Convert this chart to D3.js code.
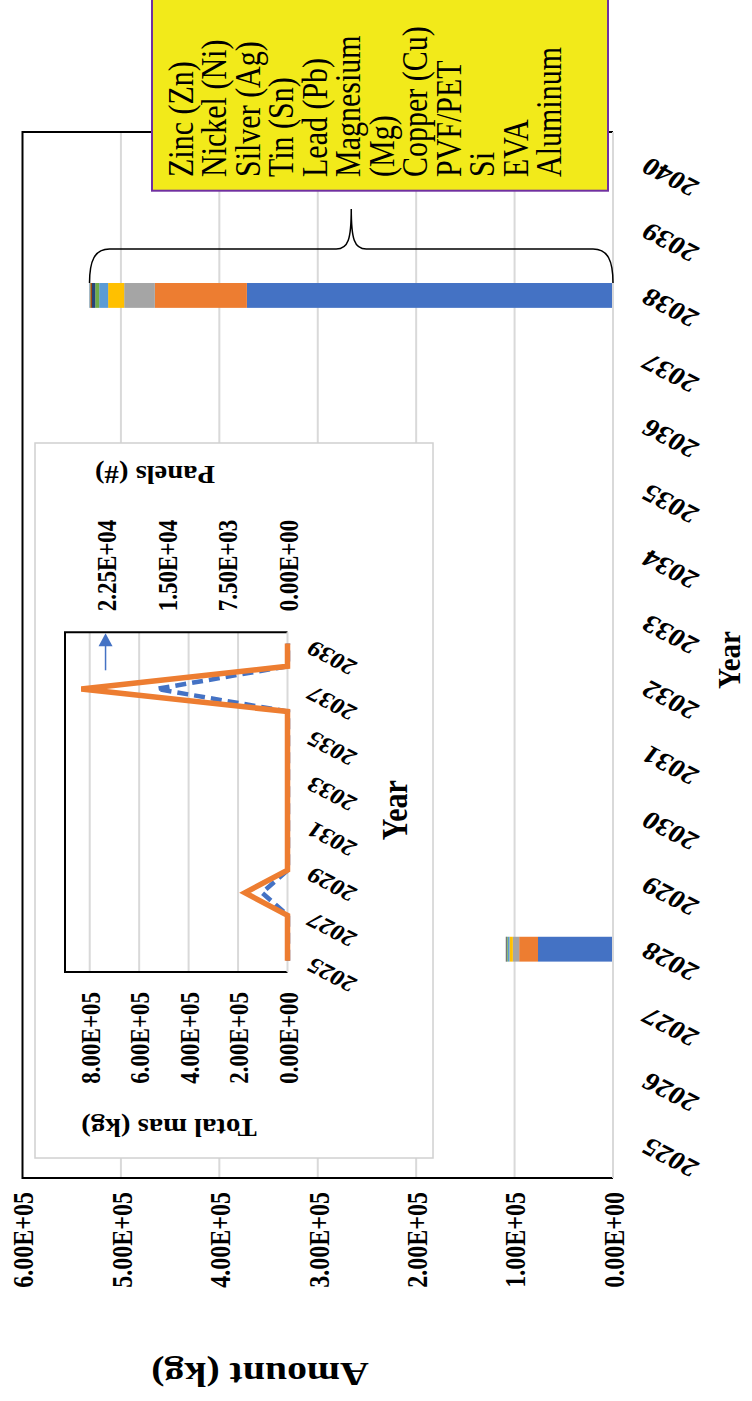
<!DOCTYPE html>
<html><head><meta charset="utf-8">
<script src="https://cdn.jsdelivr.net/npm/d3@7"></script>
<style>
body{margin:0;background:#fff}
svg{display:block}
text{font-family:"Liberation Serif","Times New Roman",serif;fill:#000}
</style>
</head><body>
<svg id="c" width="752" height="1401"></svg>
<script>
// ---------------- data ----------------
const years = ["2025","2026","2027","2028","2029","2030","2031","2032","2033","2034","2035","2036","2037","2038","2039","2040"];
const materials = ["Aluminum","EVA","Si","PVF/PET","Copper (Cu)","Magnesium (Mg)","Lead (Pb)","Tin (Sn)","Silver (Ag)","Nickel (Ni)","Zinc (Zn)"];
const materialColors = ["#4472C4","#ED7D31","#A5A5A5","#FFC000","#5B9BD5","#70AD47","#264478","#9E480E","#636363","#997300","#255E91"];
const aluminum  = [0,0,0,76200,0,0,0,0,0,0,0,0,0,372000,0,0];
const eva       = [0,0,0,19160,0,0,0,0,0,0,0,0,0,93500,0,0];
const si        = [0,0,0,6400,0,0,0,0,0,0,0,0,0,31200,0,0];
const pvfPet    = [0,0,0,3340,0,0,0,0,0,0,0,0,0,16300,0,0];
const copper    = [0,0,0,1860,0,0,0,0,0,0,0,0,0,9100,0,0];
const magnesium = [0,0,0,820,0,0,0,0,0,0,0,0,0,4000,0,0];
const lead      = [0,0,0,680,0,0,0,0,0,0,0,0,0,3300,0,0];
const tin       = [0,0,0,200,0,0,0,0,0,0,0,0,0,1000,0,0];
const silver    = [0,0,0,100,0,0,0,0,0,0,0,0,0,500,0,0];
const nickel    = [0,0,0,120,0,0,0,0,0,0,0,0,0,600,0,0];
const zinc      = [0,0,0,80,0,0,0,0,0,0,0,0,0,400,0,0];
const amountTicks = [0,100000,200000,300000,400000,500000,600000];
const legendLines = ["Zinc (Zn)","Nickel (Ni)","Silver (Ag)","Tin (Sn)","Lead (Pb)","Magnesium","(Mg)","Copper (Cu)","PVF/PET","Si","EVA","Aluminum"];

const insetYears = ["2025","2026","2027","2028","2029","2030","2031","2032","2033","2034","2035","2036","2037","2038","2039"];
const insetYearLabels = ["2025","2027","2029","2031","2033","2035","2037","2039"];
const totalMass = [0,0,0,172000,0,0,0,0,0,0,0,0,834000,0,0];
const panels    = [0,0,0,3200,0,0,0,0,0,0,0,0,16200,0,0];
const massTicks = [0,200000,400000,600000,800000];
const panelTicks = [0,7500,15000,22500];

// ---------------- helpers ----------------
function sci(v){
  if (v === 0) return "0.00E+00";
  const e = Math.floor(Math.log10(Math.abs(v)));
  const m = v / Math.pow(10, e);
  return m.toFixed(2) + "E" + (e >= 0 ? "+" : "-") + String(Math.abs(e)).padStart(2, "0");
}
// the picture is stretched sideways: glyphs are wider along the page's x
const tf = (px, py, ang, sx) => `translate(${px},${py}) scale(${sx},1) rotate(${ang})`;

const svg = d3.select("#c");
const seriesArrays = [aluminum, eva, si, pvfPet, copper, magnesium, lead, tin, silver, nickel, zinc];
const table = years.map((y, i) => {
  const row = {year: y};
  materials.forEach((m, k) => row[m] = seriesArrays[k][i]);
  return row;
});

// ---------------- main chart ----------------
const P = {left: 22.5, right: 613, top: 132, bottom: 1178};
const x = d3.scaleLinear().domain([0, 600000]).range([P.right, P.left]);
const y = d3.scaleBand().domain(years).range([P.bottom, P.top]).paddingInner(0.62).paddingOuter(0.31);

svg.append("g").selectAll("line").data(amountTicks.filter(t => t > 0 && t < 600000)).join("line")
  .attr("x1", d => x(d)).attr("x2", d => x(d)).attr("y1", P.top).attr("y2", P.bottom)
  .attr("stroke", "#D9D9D9").attr("stroke-width", 2);

const stack = d3.stack().keys(materials)(table);
svg.append("g").selectAll("g").data(stack).join("g")
  .attr("fill", (d, i) => materialColors[i])
  .selectAll("rect").data(d => d.filter(p => p[1] - p[0] > 0)).join("rect")
  .attr("x", d => x(d[1])).attr("width", d => x(d[0]) - x(d[1]))
  .attr("y", d => y(d.data.year)).attr("height", y.bandwidth());

svg.append("path").attr("d", `M${P.right},${P.top}H${P.left}V${P.bottom}H${P.right}`)
  .attr("stroke", "#000").attr("stroke-width", 2).attr("fill", "none");
svg.append("line").attr("x1", P.right).attr("x2", P.right).attr("y1", P.top).attr("y2", P.bottom)
  .attr("stroke", "#D9D9D9").attr("stroke-width", 2);

const ax = svg.append("g").attr("transform", `translate(0,${P.bottom})`)
  .call(d3.axisBottom(x).tickValues(amountTicks).tickSize(0).tickFormat(sci));
ax.select(".domain").remove();
ax.selectAll("text").attr("x", 0).attr("y", 0).attr("dy", "0.35em")
  .attr("transform", tf(0, 14, -90, 1.22)).attr("text-anchor", "end")
  .style("font-family", "Liberation Serif").style("font-size", "24px").style("font-weight", "bold").attr("fill", "#000");

const ay = svg.append("g").attr("transform", `translate(${P.right},0)`)
  .call(d3.axisRight(y).tickSize(0));
ay.select(".domain").remove();
ay.selectAll("text").attr("x", 0).attr("dy", null)
  .attr("transform", tf(57, y.bandwidth()/2, -148, 1.2))
  .attr("text-anchor", "middle").attr("dominant-baseline", "central")
  .style("font-family", "Liberation Serif").style("font-size", "25px").style("font-weight", "bold").attr("fill", "#000");

svg.append("text").attr("transform", tf(260, 1374, 180, 1.17))
  .attr("text-anchor", "middle").attr("dominant-baseline", "central")
  .style("font-size", "34px").style("font-weight", "bold").text("Amount (kg)");
svg.append("text").attr("transform", tf(730, 660, -90, 1.1))
  .attr("text-anchor", "middle").attr("dominant-baseline", "central")
  .style("font-size", "29px").style("font-weight", "bold").text("Year");

// ---------------- inset ----------------
const I = {left: 65, right: 287.5, top: 632.3, bottom: 972};
svg.append("rect").attr("x", 35).attr("y", 443).attr("width", 398).attr("height", 715)
  .attr("fill", "#fff").attr("stroke", "#D0D0D0").attr("stroke-width", 1.5);
const xm = d3.scaleLinear().domain([0, 900000]).range([I.right, I.left]);
const xp = d3.scaleLinear().domain([0, 27500]).range([I.right + 0.5, I.left]);
const yi = d3.scalePoint().domain(insetYears).range([I.bottom, I.top]).padding(0.5);

svg.append("g").selectAll("line").data(massTicks.filter(t => t > 0)).join("line")
  .attr("x1", d => xm(d)).attr("x2", d => xm(d)).attr("y1", I.top).attr("y2", I.bottom)
  .attr("stroke", "#D9D9D9").attr("stroke-width", 2);
svg.append("path").attr("d", `M${I.right},${I.top}H${I.left}V${I.bottom}H${I.right}`)
  .attr("fill", "none").attr("stroke", "#000").attr("stroke-width", 2);
svg.append("line").attr("x1", I.right).attr("x2", I.right).attr("y1", I.top).attr("y2", I.bottom)
  .attr("stroke", "#D9D9D9").attr("stroke-width", 2);

svg.append("path").datum(panels)
  .attr("d", d3.line().x(d => xp(d)).y((d, i) => yi(insetYears[i])))
  .attr("fill", "none").attr("stroke", "#4472C4").attr("stroke-width", 4.5).attr("stroke-dasharray", "11,6");
svg.append("path").datum(totalMass)
  .attr("d", d3.line().x(d => xm(d)).y((d, i) => yi(insetYears[i])))
  .attr("fill", "none").attr("stroke", "#ED7D31").attr("stroke-width", 5.5);

const axX = xp(22500);
svg.append("line").attr("x1", axX).attr("x2", axX).attr("y1", I.top + 38).attr("y2", I.top + 12)
  .attr("stroke", "#4472C4").attr("stroke-width", 1.5);
svg.append("path").attr("d", `M${axX},${I.top + 1}L${axX - 7},${I.top + 14}L${axX + 7},${I.top + 14}Z`).attr("fill", "#4472C4");

const am = svg.append("g").attr("transform", `translate(0,${I.bottom})`)
  .call(d3.axisBottom(xm).tickValues(massTicks).tickSize(0).tickFormat(sci));
am.select(".domain").remove();
am.selectAll("text").attr("x", 0).attr("y", 0).attr("dy", "0.35em")
  .attr("transform", tf(0, 20, -90, 1.2)).attr("text-anchor", "end")
  .style("font-family", "Liberation Serif").style("font-size", "23px").style("font-weight", "bold").attr("fill", "#000");

const ap = svg.append("g").attr("transform", `translate(0,${I.top})`)
  .call(d3.axisTop(xp).tickValues(panelTicks).tickSize(0).tickFormat(sci));
ap.select(".domain").remove();
ap.selectAll("text").attr("x", 0).attr("y", 0).attr("dy", "0.35em")
  .attr("transform", tf(0, -21, -90, 1.2)).attr("text-anchor", "start")
  .style("font-family", "Liberation Serif").style("font-size", "23px").style("font-weight", "bold").attr("fill", "#000");

const ayi = svg.append("g").attr("transform", `translate(${I.right},0)`)
  .call(d3.axisRight(yi).tickValues(insetYearLabels).tickSize(0));
ayi.select(".domain").remove();
ayi.selectAll("text").attr("x", 0).attr("dy", null)
  .attr("transform", tf(44, 14, -148, 1.2))
  .attr("text-anchor", "middle").attr("dominant-baseline", "central")
  .style("font-family", "Liberation Serif").style("font-size", "22px").style("font-weight", "bold").attr("fill", "#000");

svg.append("text").attr("transform", tf(169, 1128, 180, 1.1))
  .attr("text-anchor", "middle").attr("dominant-baseline", "central")
  .style("font-size", "26px").style("font-weight", "bold").text("Total mas (kg)");
svg.append("text").attr("transform", tf(155, 475, 180, 1.1))
  .attr("text-anchor", "middle").attr("dominant-baseline", "central")
  .style("font-size", "26px").style("font-weight", "bold").text("Panels (#)");
svg.append("text").attr("transform", tf(395, (I.top + I.bottom) / 2 + 8, -90, 1.2))
  .attr("text-anchor", "middle").attr("dominant-baseline", "central")
  .style("font-size", "30px").style("font-weight", "bold").text("Year");

// ---------------- legend text box + brace ----------------
svg.append("rect").attr("x", 152).attr("y", -10).attr("width", 456).attr("height", 200.7)
  .attr("fill", "#F2EA1A").attr("stroke", "#7030A0").attr("stroke-width", 2);
svg.append("g").selectAll("text").data(legendLines).join("text")
  .attr("transform", (d, i) => tf(180 + i * 33.5, 177, -90, 1.2))
  .attr("dy", "0.35em").attr("text-anchor", "start")
  .style("font-size", "30px").text(d => d);

const tot38 = d3.sum(seriesArrays, a => a[years.indexOf("2038")]);
const bL = x(tot38), bR = x(0), bMid = (bL + bR) / 2;
const barTop = y("2038"), bh = 249, tipY = 209;
svg.append("path")
  .attr("d", `M${bL},${barTop}C${bL},${bh + 12} ${bL + 5},${bh} ${bL + 20},${bh}L${bMid - 15},${bh}C${bMid - 3},${bh} ${bMid},${bh - 10} ${bMid},${tipY}C${bMid},${bh - 10} ${bMid + 3},${bh} ${bMid + 15},${bh}L${bR - 20},${bh}C${bR - 5},${bh} ${bR},${bh + 12} ${bR},${barTop}`)
  .attr("fill", "none").attr("stroke", "#000").attr("stroke-width", 1.5);
</script>
</body></html>
